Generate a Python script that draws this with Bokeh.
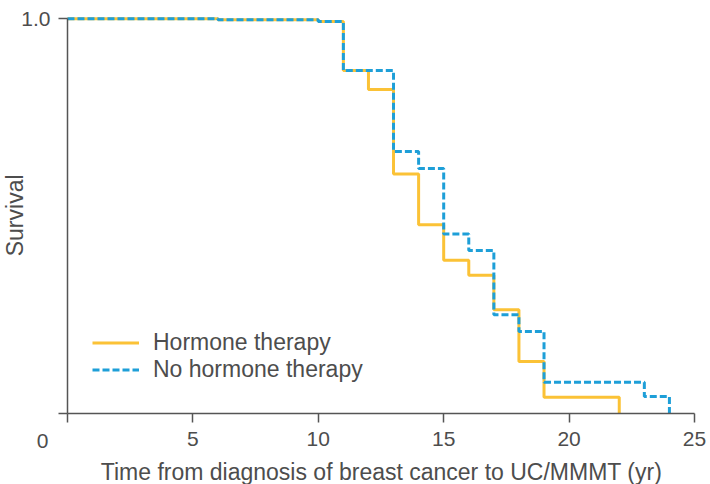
import math
from bokeh.plotting import figure
from bokeh.models import FixedTicker, Label, Legend, LegendItem, Range1d
from bokeh.embed import file_html
from bokeh.resources import INLINE

# ---- data ----
ht_time = [0, 6, 10, 11, 12, 13, 14, 15, 16, 17, 18, 19, 22]
ht_surv = [1.0, 0.9975, 0.993, 0.869, 0.821, 0.607, 0.478, 0.388, 0.350, 0.263, 0.132, 0.041, 0.0]
nh_time = [0, 6, 10, 11, 13, 14, 15, 16, 17, 18, 19, 23, 24]
nh_surv = [1.0, 0.9975, 0.993, 0.869, 0.664, 0.621, 0.455, 0.413, 0.250, 0.208, 0.079, 0.043, 0.0]
x_ticks = [0, 5, 10, 15, 20, 25]
y_ticks = [0, 1]
series_names = ["Hormone therapy", "No hormone therapy"]
x_title = "Time from diagnosis of breast cancer to UC/MMMT (yr)"
y_title = "Survival"
origin_label = "0"

FONT = "Liberation Sans"
TXT = "#4d4d4d"
AX = "#555555"

# frame covers the whole canvas; axes are placed at the data origin
p = figure(width=710, height=484, output_backend="svg", toolbar_location=None,
           x_range=Range1d(-2.671, 25.638), y_range=Range1d(-0.1799, 1.0464),
           min_border=0)
p.outline_line_color = None
p.grid.visible = False
p.background_fill_color = "white"

r1 = p.step(ht_time, ht_surv, mode="after", line_color="#FBC236", line_width=3)
r2 = p.step(nh_time, nh_surv, mode="after", line_color="#1E9FD8", line_width=3,
            line_dash="7 3")

for ax in (p.xaxis[0], p.yaxis[0]):
    ax.fixed_location = 0
    ax.axis_line_color = AX
    ax.axis_line_width = 1.5
    ax.major_tick_line_color = AX
    ax.major_tick_line_width = 1.5
    ax.major_tick_out = 9
    ax.major_tick_in = 0
    ax.minor_tick_line_color = None
    ax.major_label_text_font = FONT
    ax.major_label_text_font_size = "21px"
    ax.major_label_text_color = TXT

p.xaxis.ticker = FixedTicker(ticks=x_ticks)
p.xaxis.major_label_overrides = {0: ""}
p.xaxis.major_label_standoff = 10
p.xaxis.bounds = (0, 25)

p.yaxis.ticker = FixedTicker(ticks=y_ticks)
p.yaxis.major_label_overrides = {0: "", 1: "1.0"}
p.yaxis.major_label_standoff = 8
p.yaxis.bounds = (0, 1)

# origin label, y title, x title
p.add_layout(Label(x=-0.997, y=-0.0702, text=origin_label, text_font=FONT,
                   text_font_size="21px", text_color=TXT, text_align="center",
                   text_baseline="middle"))
p.add_layout(Label(x=-2.10, y=0.502, text=y_title, angle=math.pi / 2, text_font=FONT,
                   text_font_size="23px", text_color=TXT, text_align="center",
                   text_baseline="middle"))
p.add_layout(Label(x=12.52, y=-0.149, text=x_title, text_font=FONT, text_font_size="23px",
                   text_color=TXT, text_align="center", text_baseline="alphabetic"))

legend = Legend(items=[LegendItem(label=series_names[0], renderers=[r1]),
                       LegendItem(label=series_names[1], renderers=[r2])],
                location=(92, 101), glyph_width=47, glyph_height=27, label_height=27,
                label_standoff=14, spacing=0, padding=0, margin=0,
                border_line_alpha=0, background_fill_alpha=0,
                label_text_font=FONT, label_text_font_size="23px", label_text_color=TXT)
p.add_layout(legend)

open("out.html", "w").write(file_html(p, INLINE))
